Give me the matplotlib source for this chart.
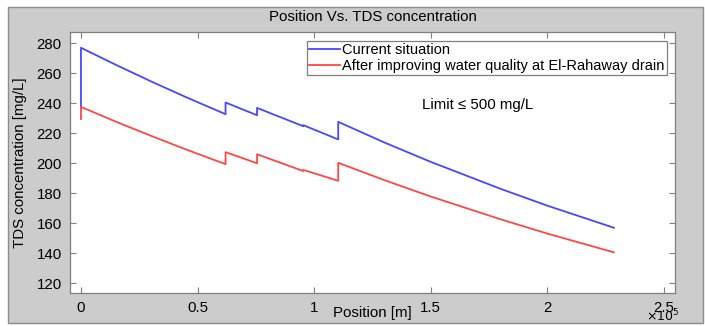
import matplotlib
matplotlib.use('Agg')
import matplotlib.pyplot as plt
from matplotlib.patches import Rectangle

plt.rcParams['font.family'] = ['Liberation Sans', 'DejaVu Sans']

# Position along the canal [m] and TDS concentration [mg/L]
pos_current = [0, 0, 15000, 30000, 45000, 62000,
               62000, 75500,
               75500, 95300,
               95300, 110300,
               110300, 130000, 150000, 180000, 200000, 228500]
tds_current = [237, 277, 265.6, 254.6, 244.1, 232.7,
               240.5, 232.0,
               236.9, 224.7,
               225.4, 215.9,
               227.6, 213.9, 200.9, 182.9, 171.7, 157.0]

pos_improved = [0, 0, 15000, 30000, 45000, 62000,
                62000, 75500,
                75500, 95300,
                95300, 110300,
                110300, 130000, 150000, 180000, 200000, 228500]
tds_improved = [229.5, 237.6, 227.7, 218.3, 209.2, 199.4,
                207.4, 200.0,
                206.0, 194.8,
                195.6, 188.3,
                200.3, 188.8, 177.8, 162.6, 153.1, 140.6]

x_ticks = [0, 50000, 100000, 150000, 200000, 250000]
x_tick_labels = ['0', '0.5', '1', '1.5', '2', '2.5']
y_ticks = [120, 140, 160, 180, 200, 220, 240, 260, 280]

fig = plt.figure(figsize=(7.05, 3.26), dpi=100)
fig.patch.set_facecolor('white')
# gray MATLAB-like figure panel
fig.patches.append(Rectangle((8 / 705, 3 / 326), 695 / 705, 316 / 326,
                             transform=fig.transFigure, facecolor='#cccccc',
                             edgecolor='#8c8c8c', linewidth=1, zorder=-10))

ax = fig.add_axes([70 / 705, 33 / 326, 605 / 705, 261 / 326])
ax.plot(pos_current, tds_current, color='#4747ff', lw=1.3, label='Current situation')
ax.plot(pos_improved, tds_improved, color='#ff4747', lw=1.3,
        label='After improving water quality at El-Rahaway drain')

ax.set_xlim(-4700, 254700)
ax.set_ylim(113.5, 287.5)
ax.set_xticks(x_ticks)
ax.set_xticklabels(x_tick_labels)
ax.set_yticks(y_ticks)
ax.tick_params(direction='in', top=True, right=True, length=4, width=0.8,
               color='#7f7f7f', labelsize=10.8)
ax.tick_params(axis='x', pad=6)
ax.tick_params(axis='y', pad=6)
for s in ax.spines.values():
    s.set_color('#7f7f7f')
    s.set_linewidth(0.9)

ax.set_title('Position Vs. TDS concentration', fontsize=10.8, y=1.057,
             va='center', pad=0)
ax.set_xlabel('Position [m]', fontsize=10.8)
ax.xaxis.set_label_coords(0.5, -0.077)
ax.xaxis.label.set_va('center')
ax.set_ylabel('TDS concentration [mg/L]', fontsize=10.8)
ax.yaxis.set_label_coords(-0.083, 0.5)
ax.yaxis.label.set_va('center')

ax.text(0.979, -0.09, r'$\times10^5$', transform=ax.transAxes, ha='center',
        va='center', fontsize=9)
ax.text(0.674, 0.72, 'Limit \u2264 500 mg/L', transform=ax.transAxes,
        ha='center', va='center', fontsize=10.8)

leg = ax.legend(loc='upper right', bbox_to_anchor=(0.9868, 0.9655),
                borderaxespad=0, fontsize=10.5, fancybox=False,
                handlelength=2.1, handletextpad=0.2, borderpad=0.15,
                labelspacing=0.1, framealpha=1)
leg.get_frame().set_edgecolor('#7f7f7f')
leg.get_frame().set_linewidth(0.9)

fig.savefig('out.png', dpi=100)
plt.close()
